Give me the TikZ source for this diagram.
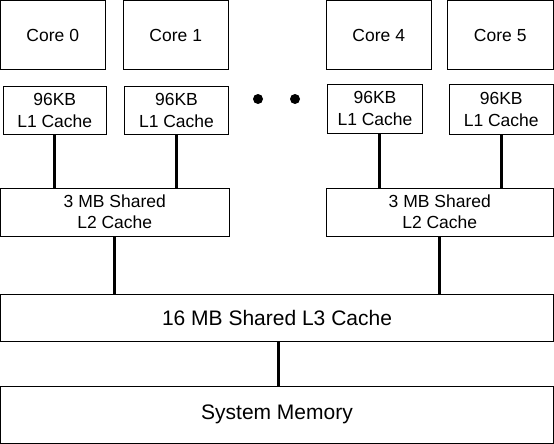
\documentclass[tikz,border=0pt]{standalone}
\usepackage{fontspec}
\setmainfont{Liberation Sans}
\begin{document}
\begin{tikzpicture}[x=1pt,y=-1pt,
  box/.style={draw=black,line width=1pt,inner sep=0pt,align=center,font=\fontsize{17.5}{22}\selectfont},
  bigbox/.style={box,font=\fontsize{21}{25}\selectfont},
  link/.style={line width=3pt},
  dotn/.style={circle,fill=black,inner sep=0pt,minimum size=10pt}]
\useasboundingbox (0,0) rectangle (554,444);
\node[box,minimum width=104.5pt,minimum height=69pt] (core0) at (52.75,35.5) {Core 0};
\node[box,minimum width=105.5pt,minimum height=69pt] (core1) at (175.75,35.5) {Core 1};
\node[box,minimum width=105.5pt,minimum height=68.5pt] (core4) at (378.75,35.25) {Core 4};
\node[box,minimum width=106.5pt,minimum height=68.5pt] (core5) at (500.25,35.25) {Core 5};
\node[box,minimum width=103.5pt,minimum height=48pt] (l1a) at (54.75,110) {96KB\\L1 Cache};
\node[box,minimum width=104pt,minimum height=48pt] (l1b) at (176.5,110) {96KB\\L1 Cache};
\node[box,minimum width=95pt,minimum height=48.5pt] (l1c) at (375,108.75) {96KB\\L1 Cache};
\node[box,minimum width=103.5pt,minimum height=49.5pt] (l1d) at (501.25,109.25) {96KB\\L1 Cache};
\node[dotn] (dot1) at (258,99) {};
\node[dotn] (dot2) at (295,99) {};
\node[box,minimum width=228.5pt,minimum height=48pt,font=\fontsize{17.5}{21}\selectfont] (l2a) at (114.75,212) {3 MB Shared\\L2 Cache};
\node[box,minimum width=227.5pt,minimum height=48pt,font=\fontsize{17.5}{21}\selectfont] (l2b) at (439.75,212) {3 MB Shared\\L2 Cache};
\node[bigbox,minimum width=553pt,minimum height=46.5pt] (l3) at (277,317.75) {16 MB Shared L3 Cache};
\node[bigbox,minimum width=553pt,minimum height=57pt] (mem) at (277,414.5) {System Memory};
\draw[link] (l1a.south) -- (l1a.south |- l2a.north);
\draw[link] (l1b.south) -- (l1b.south |- l2a.north);
\draw[link] ([xshift=4.5pt]l1c.south) -- ([xshift=4.5pt]l1c.south |- l2b.north);
\draw[link] (l1d.south) -- (l1d.south |- l2b.north);
\draw[link] (l2a.south) -- (l2a.south |- l3.north);
\draw[link] (l2b.south) -- (l2b.south |- l3.north);
\draw[link] ([xshift=1pt]l3.south) -- ([xshift=1pt]l3.south |- mem.north);
\end{tikzpicture}
\end{document}
